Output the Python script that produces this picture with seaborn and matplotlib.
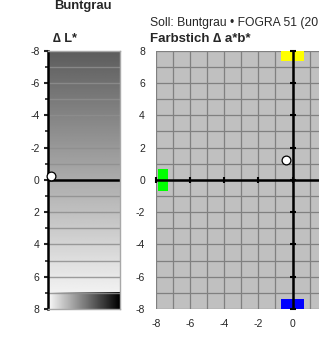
import numpy as np
import pandas as pd
import matplotlib
matplotlib.use("Agg")
import matplotlib.pyplot as plt
import seaborn as sns

# ---- data ----
title_main = "Buntgrau"
title_soll = "Soll: Buntgrau \u2022 FOGRA 51 (2015)"
title_ab = "Farbstich \u2206 a*b*"
title_L = "\u2206 L*"
axis_ticks = [-8, -6, -4, -2, 0, 2, 4, 6, 8]
x_tick_labels = ["-8", "-6", "-4", "-2", "0", "", "", "", ""]
minor_ticks = [-7, -5, -3, -1, 1, 3, 5, 7]
delta_L = [-0.25]
delta_a = [-0.4]
delta_b = [1.2]
# cast indicator boxes: colour, centre a, centre b, width, height
box_colors = ["#00ff00", "#ffff00", "#0000ff"]
box_a = [-7.6, 0.0, 0.0]
box_b = [0.0, 7.68, -7.68]
box_w = [0.6, 1.3, 1.3]
box_h = [1.4, 0.65, 0.65]

sns.set_style("white")
plt.rcParams["font.family"] = ["Liberation Sans", "DejaVu Sans"]

fig = plt.figure(figsize=(3.19, 3.38), dpi=100)
H = 338.0
W = 319.0
bottom = (H - 309) / H
height = 258.3 / H
axL = fig.add_axes([48 / W, bottom, 72 / W, height])
axR = fig.add_axes([156 / W, bottom, 273 / W, height])

# ---- left panel (Delta L) ----
axL.set_xlim(0, 1)
axL.set_ylim(8, -8)
grad = np.linspace(92, 242, 256)[:, None] / 255.0
axL.imshow(np.repeat(grad, 2, axis=1), extent=[0, 1, 7, -8], cmap="gray",
           vmin=0, vmax=1, aspect="auto", interpolation="bilinear", zorder=0)
hgrad = np.linspace(250, 0, 256)[None, :] / 255.0
axL.imshow(np.repeat(hgrad, 2, axis=0), extent=[0, 1, 8, 7], cmap="gray",
           vmin=0, vmax=1, aspect="auto", interpolation="bilinear", zorder=0)
for v in range(-7, 8):
    if v == 0:
        continue
    axL.axhline(v, color="#8e8e8e", lw=1.0, alpha=0.85, zorder=1)
axL.axhline(0, color="black", lw=1.8, zorder=2)
axL.set_yticks(axis_ticks)
axL.set_yticklabels([str(t) for t in axis_ticks], fontsize=7.5)
axL.set_yticks(minor_ticks, minor=True)
axL.set_xticks([])
axL.tick_params(axis="y", which="major", length=3, width=1.5, pad=3, left=True)
axL.tick_params(axis="y", which="minor", length=2, width=1.2, left=True)
for s in ["top", "right", "bottom"]:
    axL.spines[s].set_color("#a8a8a8")
    axL.spines[s].set_linewidth(1.0)
axL.spines["left"].set_color("black")
axL.spines["left"].set_linewidth(1.8)
dfL = pd.DataFrame({"x": [0.04] * len(delta_L), "L": delta_L})
sns.scatterplot(data=dfL, x="x", y="L", ax=axL, s=40, color="white",
                edgecolor="black", linewidth=0.9, zorder=5, clip_on=False, legend=False)
axL.set_xlabel("")
axL.set_ylabel("")

# ---- right panel (Delta a*b*) ----
axR.set_facecolor("#c0c0c0")
axR.set_xlim(-8, 8)
axR.set_ylim(-8, 8)
for v in range(-8, 9):
    axR.axvline(v, color="#808080", lw=0.9, zorder=1)
    axR.axhline(v, color="#808080", lw=0.9, zorder=1)
for c, a, b, w, h in zip(box_colors, box_a, box_b, box_w, box_h):
    axR.bar(a, h, width=w, bottom=b - h / 2, color=c, zorder=2,
            edgecolor="none")
axR.axhline(0, color="black", lw=1.8, zorder=3)
axR.axvline(0, color="black", lw=1.8, zorder=3)
zeros = [0] * len(axis_ticks)
axR.plot(axis_ticks, zeros, ls="", marker="|", ms=5, mew=1.5, color="black", zorder=3, clip_on=False)
axR.plot(zeros, axis_ticks, ls="", marker="_", ms=5, mew=1.5, color="black", zorder=3, clip_on=False)
dfR = pd.DataFrame({"a": delta_a, "b": delta_b})
sns.scatterplot(data=dfR, x="a", y="b", ax=axR, s=40, color="white",
                edgecolor="black", linewidth=0.9, zorder=5, legend=False)
axR.set_xticks(axis_ticks)
axR.set_yticks(axis_ticks)
axR.set_xticklabels(x_tick_labels, fontsize=7.5)
axR.set_yticklabels([str(t) for t in axis_ticks], fontsize=7.5)
axR.tick_params(length=0, pad=8)
axR.tick_params(axis="x", pad=7)
for s in axR.spines.values():
    s.set_visible(False)
axR.set_xlabel("")
axR.set_ylabel("")

# ---- titles ----
fig.text(83 / W, 1 - 9.5 / H, title_main, ha="center", va="baseline",
         fontsize=9.4, fontweight="bold")
fig.text(150 / W, 1 - 26 / H, title_soll, ha="left", va="baseline", fontsize=8.7)
fig.text(150 / W, 1 - 42.5 / H, title_ab, ha="left", va="baseline",
         fontsize=9.5, fontweight="bold")
fig.text(53 / W, 1 - 42.5 / H, title_L, ha="left", va="baseline",
         fontsize=9.2, fontweight="bold")

fig.savefig("out.png", dpi=100)
